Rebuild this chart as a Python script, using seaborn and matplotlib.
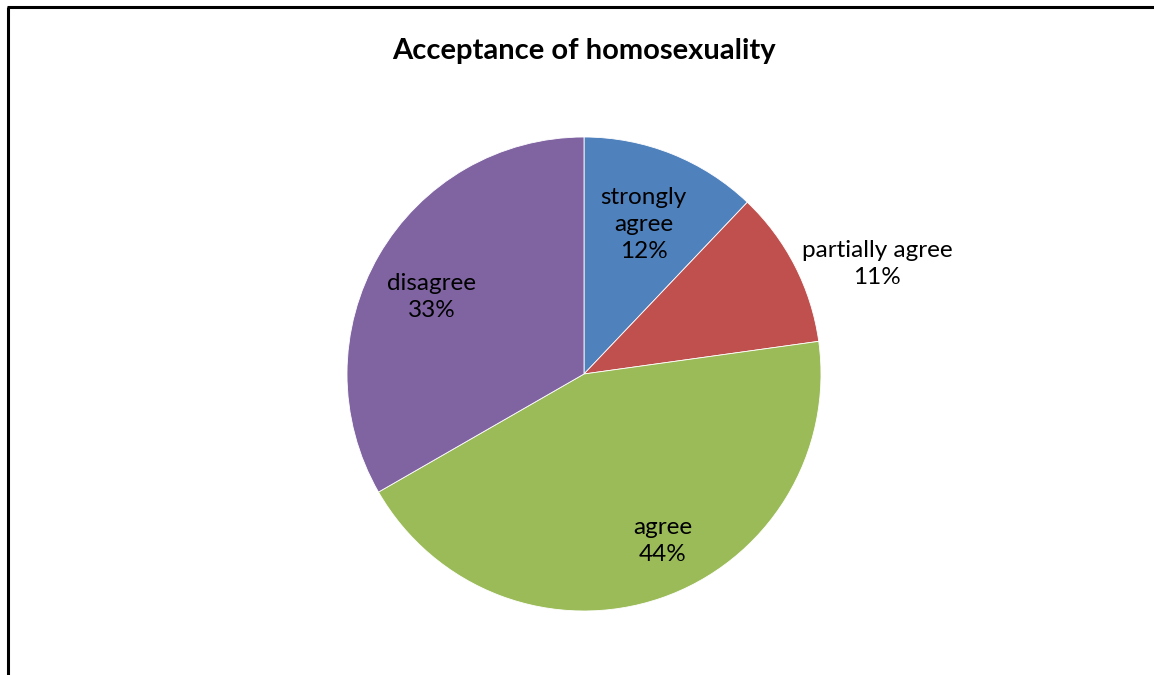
import matplotlib
matplotlib.use("Agg")
import matplotlib.pyplot as plt
import seaborn as sns
import numpy as np
from matplotlib.lines import Line2D

categories = ["strongly\nagree", "partially agree", "agree", "disagree"]
values = [12.1, 10.7, 43.9, 33.3]
colors = ["#4F81BD", "#C0504D", "#9BBB59", "#8064A2"]

sns.set_style("white")
plt.rcParams['font.family'] = ['Lato', 'DejaVu Sans']

W, H = 1154, 675
fig = plt.figure(figsize=(W / 100, H / 100), dpi=100)
cx, cy, r = 584, 374, 237
ax = fig.add_axes([(cx - r) / W, (H - cy - r) / H, 2 * r / W, 2 * r / H])

wedges, _ = ax.pie(values, colors=colors, startangle=90, counterclock=False,
                   radius=1.0, wedgeprops=dict(edgecolor="white", linewidth=0.6))
ax.set_xlim(-1, 1)
ax.set_ylim(-1, 1)
ax.set_aspect("equal")
ax.axis("off")

total = sum(values)
# label placement: (distance, angle offset in degrees) relative to wedge midpoint
placement = [(0.68, 0.0), (1.32, -6.6), (0.78, 6.2), (0.72, 3.3)]
for w, cat, v, (d, off) in zip(wedges, categories, values, placement):
    mid = np.deg2rad((w.theta1 + w.theta2) / 2 + off)
    ax.text(d * np.cos(mid), d * np.sin(mid), f"{cat}\n{round(100 * v / total)}%",
            ha="center", va="center", fontsize=17.5, color="#000000", linespacing=1.35)

fig.text(cx / W, 1 - 51 / H, "Acceptance of homosexuality", ha="center", va="center",
         fontsize=21, fontweight="bold", color="#000000")

fig.add_artist(Line2D([8 / W, 8 / W], [0, 1 - 7 / H], transform=fig.transFigure,
                      color="black", linewidth=2.2, solid_capstyle="butt"))
fig.add_artist(Line2D([8 / W - 0.001, 1], [1 - 7 / H, 1 - 7 / H], transform=fig.transFigure,
                      color="black", linewidth=2.2, solid_capstyle="butt"))

fig.savefig("out.png", dpi=100)
